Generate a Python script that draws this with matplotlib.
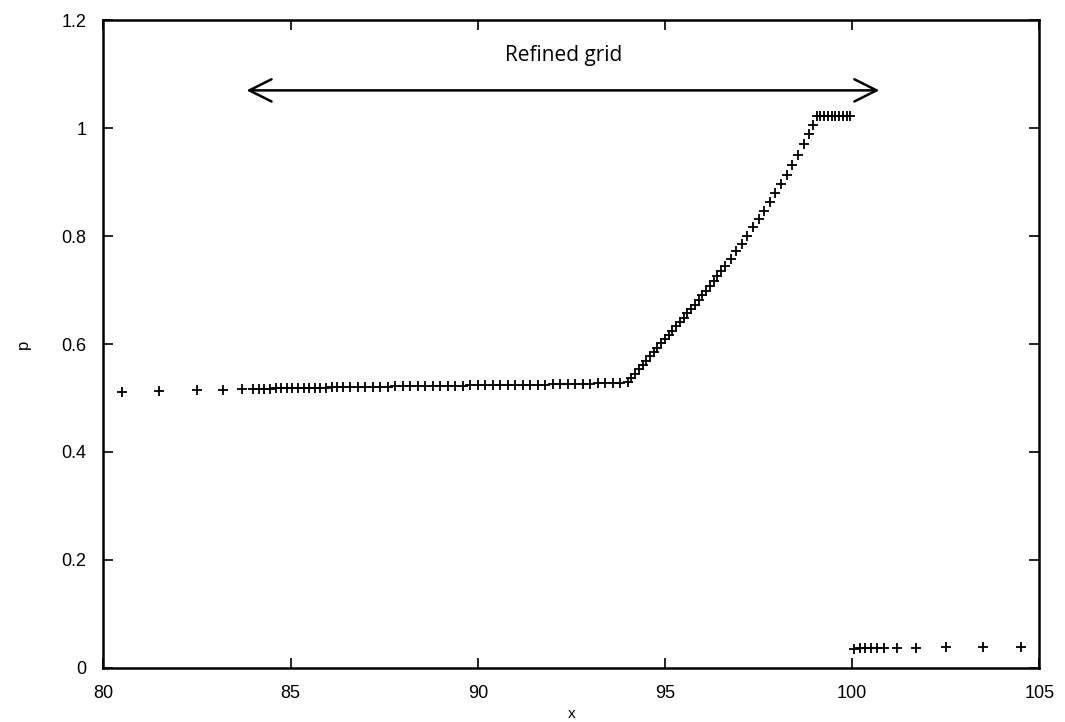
import matplotlib.pyplot as plt

# coarse grid, left of the refined region
x_left = [80.5, 81.5, 82.5, 83.2, 83.7]
p_left = [0.512, 0.513, 0.514, 0.515, 0.516]

# refined grid, flat part
x_flat = [84.0, 84.15, 84.3, 84.45, 84.6, 84.75, 84.9, 85.05, 85.2, 85.35,
          85.5, 85.65, 85.8, 85.95, 86.1, 86.25, 86.4, 86.6, 86.8, 87.0,
          87.2, 87.4, 87.6, 87.8, 88.0, 88.2, 88.4, 88.6, 88.8, 89.0,
          89.2, 89.4, 89.6, 89.8, 90.0, 90.2, 90.4, 90.6, 90.8, 91.0,
          91.2, 91.4, 91.6, 91.8, 92.0, 92.2, 92.4, 92.6, 92.8, 93.0,
          93.2, 93.4, 93.6, 93.8]
p_flat = [0.517, 0.517, 0.517, 0.517, 0.518, 0.518, 0.518, 0.518, 0.518, 0.519,
          0.519, 0.519, 0.519, 0.519, 0.520, 0.520, 0.520, 0.520, 0.520, 0.521,
          0.521, 0.521, 0.521, 0.522, 0.522, 0.522, 0.522, 0.522, 0.523, 0.523,
          0.523, 0.523, 0.523, 0.524, 0.524, 0.524, 0.524, 0.524, 0.525, 0.525,
          0.525, 0.525, 0.525, 0.525, 0.526, 0.526, 0.526, 0.526, 0.526, 0.526,
          0.527, 0.527, 0.527, 0.527]

# refined grid, rising part
x_rise = [94.0, 94.1, 94.2, 94.3, 94.4, 94.5, 94.6, 94.7, 94.8, 94.9,
          95.0, 95.1, 95.2, 95.3, 95.4, 95.5, 95.6, 95.7, 95.8, 95.9,
          96.0, 96.1, 96.2, 96.3, 96.4, 96.5, 96.6, 96.75, 96.9, 97.05,
          97.2, 97.35, 97.5, 97.65, 97.8, 97.95, 98.1, 98.25, 98.4, 98.55,
          98.7, 98.85, 98.95]
p_rise = [0.530, 0.537, 0.545, 0.553, 0.561, 0.569, 0.577, 0.585, 0.593, 0.601,
          0.609, 0.617, 0.625, 0.633, 0.641, 0.649, 0.657, 0.665, 0.673, 0.682,
          0.690, 0.699, 0.708, 0.717, 0.726, 0.735, 0.744, 0.758, 0.772, 0.786,
          0.801, 0.816, 0.831, 0.847, 0.863, 0.879, 0.896, 0.913, 0.931, 0.950,
          0.970, 0.990, 1.005]

# refined grid, upper plateau
x_top = [99.05, 99.15, 99.25, 99.35, 99.45, 99.55, 99.65, 99.75, 99.85, 99.95]
p_top = [1.022, 1.022, 1.022, 1.022, 1.022, 1.022, 1.022, 1.022, 1.022, 1.022]

# right of the shock
x_right = [100.05, 100.2, 100.35, 100.5, 100.65, 100.85, 101.2, 101.7, 102.5, 103.5, 104.5]
p_right = [0.035, 0.036, 0.036, 0.036, 0.036, 0.037, 0.037, 0.037, 0.038, 0.038, 0.039]

xs = x_left + x_flat + x_rise + x_top + x_right
ps = p_left + p_flat + p_rise + p_top + p_right

plt.rcParams['font.family'] = ['Liberation Sans', 'DejaVu Sans']

fig = plt.figure(figsize=(10.65, 7.22), dpi=100)
ax = fig.add_axes([0.097, 0.075, 0.879, 0.897])

ax.plot(xs, ps, linestyle='none', marker='+', color='black',
        markersize=6.5, markeredgewidth=1.3)

ax.annotate('', xy=(83.75, 1.07), xytext=(100.8, 1.07),
            arrowprops=dict(arrowstyle='<->', color='black', lw=1.8,
                            mutation_scale=40))
ax.text(92.3, 1.135, 'Refined grid', ha='center', va='center',
        fontsize=15, family=['Open Sans', 'DejaVu Sans'])

ax.set_xlim(80, 105)
ax.set_ylim(0, 1.2)
ax.set_xticks([80, 85, 90, 95, 100, 105])
ax.set_yticks([0, 0.2, 0.4, 0.6, 0.8, 1, 1.2])
ax.set_yticklabels(['0', '0.2', '0.4', '0.6', '0.8', '1', '1.2'])
ax.tick_params(direction='in', top=True, right=True, length=7, width=1.2,
               labelsize=13, pad=12)
ax.set_xlabel('x', fontsize=11, labelpad=4)
ax.set_ylabel('p', fontsize=12, labelpad=22)
for s in ax.spines.values():
    s.set_linewidth(1.8)

fig.savefig('out.png', dpi=100)
